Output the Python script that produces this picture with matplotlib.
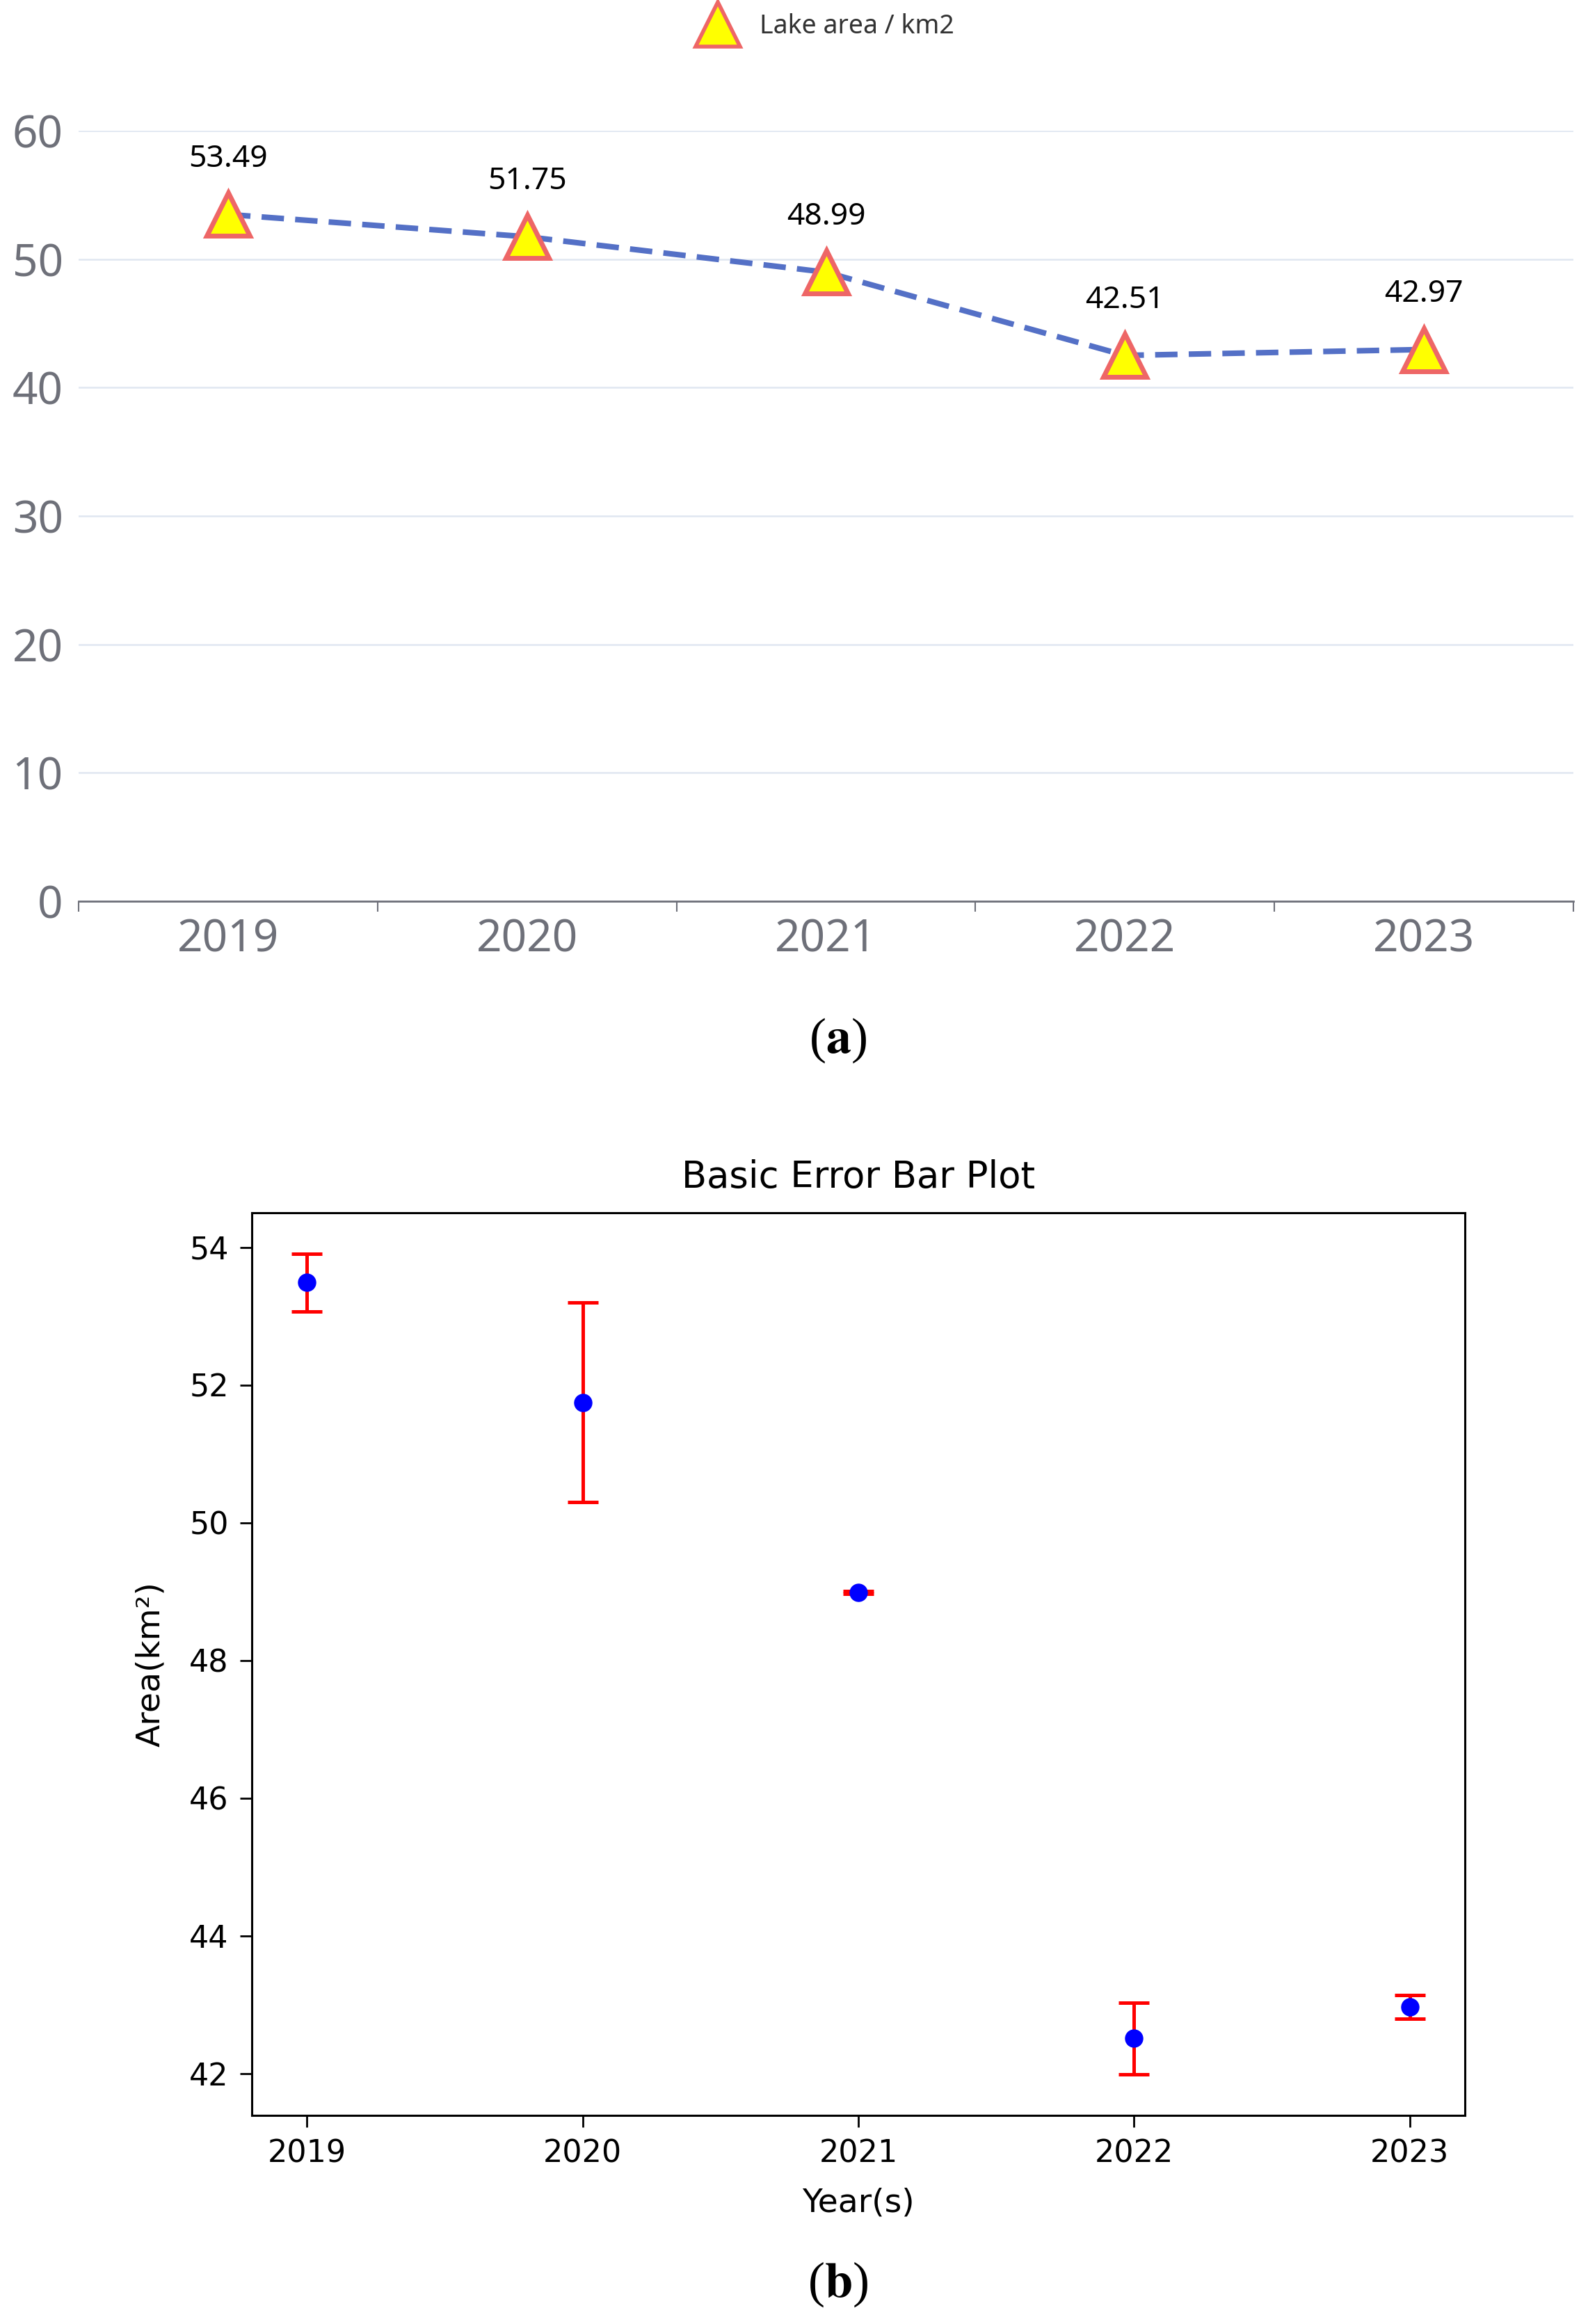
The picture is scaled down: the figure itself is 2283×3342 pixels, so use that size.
import matplotlib.pyplot as plt
from matplotlib.lines import Line2D

plt.rcParams['mathtext.fontset'] = 'stix'

years = ["2019", "2020", "2021", "2022", "2023"]
area = [53.49, 51.75, 48.99, 42.51, 42.97]
area_err = [0.42, 1.45, 0.02, 0.52, 0.17]
yticks_top = [0, 10, 20, 30, 40, 50, 60]
yticks_bottom = [42, 44, 46, 48, 50, 52, 54]

W, H = 2283, 3342
dpi = 100
fig = plt.figure(figsize=(W / dpi, H / dpi), dpi=dpi)

# --- (a) echarts-style line chart
gray = "#6E7079"
ax1 = fig.add_axes([0.0495, 0.6122, 0.9413, 0.3315])
xs = list(range(len(years)))
ax1.plot(xs, area, color="#5470C6", lw=5.8, ls=(0, (4, 2)), zorder=2)
ax1.plot(xs, area, ls="none", marker="^", ms=44, mfc="#FFFF00", mec="#EE6666",
         mew=5, zorder=3)
for x, v in zip(xs, area):
    ax1.annotate(f"{v:.2f}", (x, v), xytext=(0, 57), textcoords="offset points",
                 ha="center", va="center", fontsize=32, family="Noto Sans")
ax1.set_xlim(-0.5, len(years) - 0.5)
ax1.set_ylim(0, 60)
ax1.set_yticks(yticks_top)
ax1.set_xticks(xs)
ax1.set_xticklabels(years)
ax1.set_xticks([x - 0.5 for x in range(len(years) + 1)], minor=True)
ax1.tick_params(axis="x", which="major", length=0, pad=17, labelsize=46, labelcolor=gray)
ax1.tick_params(axis="x", which="minor", length=11, width=1.5, color=gray)
ax1.tick_params(axis="y", length=0, pad=16, labelsize=46, labelcolor=gray)
for lab in ax1.get_xticklabels() + ax1.get_yticklabels():
    lab.set_family("Noto Sans")
ax1.grid(axis="y", color="#E0E6F1", lw=1.8)
ax1.set_axisbelow(True)
for s in ["top", "right", "left"]:
    ax1.spines[s].set_visible(False)
ax1.spines["bottom"].set_color(gray)
ax1.spines["bottom"].set_linewidth(2)

handle = Line2D([], [], ls="none", marker="^", ms=46, mfc="#FFFF00", mec="#EE6666", mew=4)
fig.legend([handle], ["Lake area / km2"], loc="center", bbox_to_anchor=(0.5206, 0.9886),
           frameon=False, prop={"family": "Noto Sans", "size": 27}, handletextpad=0.9,
           handlelength=1.4, labelcolor="#333333")

fig.text(0.5275, 0.5524, r"($\mathbf{a}$)", ha="center", va="center", fontsize=52,
         family="Liberation Serif")

# --- (b) matplotlib error bar plot
ax2 = fig.add_axes([0.1586, 0.0898, 0.7639, 0.3884])
ax2.errorbar([int(y) for y in years], area, yerr=area_err, fmt="o", color="blue",
             ms=18, ecolor="red", elinewidth=3.6, capsize=16, capthick=3.6)
ax2.set_xticks([int(y) for y in years])
ax2.set_yticks(yticks_bottom)
ax2.tick_params(labelsize=32, length=12, width=2, pad=12)
for s in ax2.spines.values():
    s.set_linewidth(2.2)
ax2.set_title("Basic Error Bar Plot", fontsize=38, pad=26)
ax2.set_xlabel("Year(s)", fontsize=34, labelpad=20)
ax2.set_ylabel("Area(km²)", fontsize=34, labelpad=24)

fig.text(0.5275, 0.0170, r"($\mathbf{b}$)", ha="center", va="center", fontsize=52,
         family="Liberation Serif")

fig.savefig("out.png", dpi=dpi)
